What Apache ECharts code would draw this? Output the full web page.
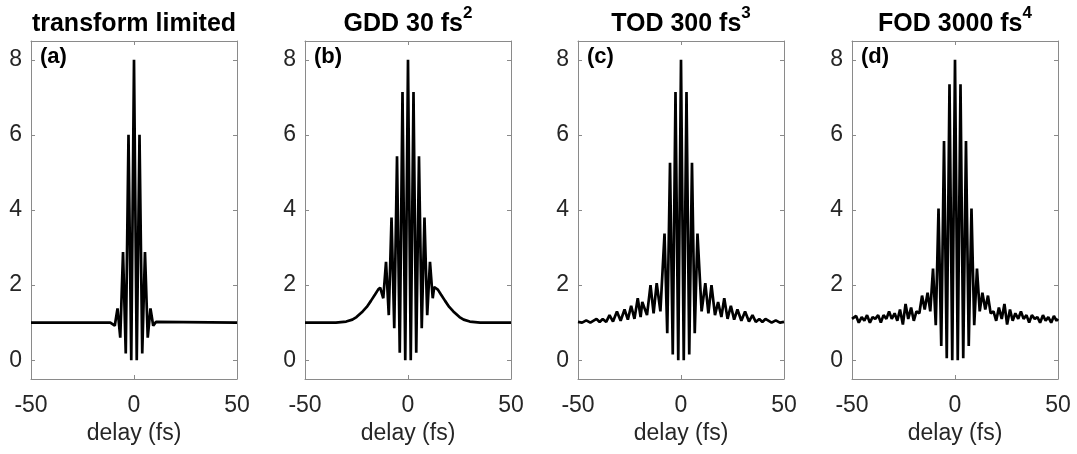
<!DOCTYPE html>
<html>
<head>
<meta charset="utf-8">
<script src="https://cdn.jsdelivr.net/npm/echarts@6/dist/echarts.min.js"></script>
<style>
  html, body { margin: 0; padding: 0; background: #fff; }
  #main { width: 1077px; height: 454px; }
</style>
</head>
<body>
<div id="main"></div>
<script>
// panel titles and labels
var titles = ['transform limited', 'GDD 30 fs', 'TOD 300 fs', 'FOD 3000 fs'];
var titleSup = ['', '2', '3', '4'];
var panelTags = ['(a)', '(b)', '(c)', '(d)'];
var xTicks = [-50, 0, 50];
var yTicks = [0, 2, 4, 6, 8];

// (a) transform limited
var delayA = [-50, -11.5, -10.7, -9.33, -8, -6.67, -5.33, -4, -2.67, -1.33, 0, 1.33, 2.67, 4, 5.33, 6.67, 8, 9.33, 10.7, 11.5, 50];
var signalA = [1, 1, 1.02, 0.92, 1.38, 0.6, 2.88, 0.18, 6.0, 0, 8, 0, 6.0, 0.18, 2.88, 0.6, 1.38, 0.92, 1.02, 1, 1];

// (b) GDD
var delayB = [-50, -35, -30, -27, -25, -22, -20, -18, -16, -14.5, -13.5, -12.7, -12, -10.67, -9.33, -8, -6.67, -5.33, -4, -2.67, -1.33, 0,
  1.33, 2.67, 4, 5.33, 6.67, 8, 9.33, 10.67, 12, 12.7, 13.5, 14.5, 16, 18, 20, 22, 25, 27, 30, 35, 50];
var signalB = [1, 1, 1.03, 1.08, 1.15, 1.3, 1.42, 1.58, 1.75, 1.88, 1.93, 1.95, 1.65, 2.62, 1.2, 3.8, 0.85, 5.43, 0.2, 7.14, 0, 8,
  0, 7.14, 0.2, 5.43, 0.85, 3.8, 1.2, 2.62, 1.65, 1.95, 1.93, 1.88, 1.75, 1.58, 1.42, 1.3, 1.15, 1.08, 1.03, 1, 1];

// (c) TOD
var delayC = [-50, -48, -46, -44, -41, -39.5, -38, -36.3, -34.7, -33, -31.1, -29.3, -27.4, -25.8, -24.2, -22.6, -21, -19.6, -18.8, -18,
  -16.5, -14.8, -13.3, -11.8, -10, -8, -6.67, -5.33, -4, -2.67, -1.33, 0,
  1.33, 2.67, 4, 5.33, 6.67, 8, 10, 11.8, 13.3, 14.8, 16.5, 18, 18.8, 19.6, 21, 22.6, 24.2, 25.8, 27.4, 29.3, 31.1, 33, 34.7, 36.3,
  38, 39.5, 41, 44, 46, 48, 50];
var signalC = [1.02, 1.0, 1.06, 1.0, 1.1, 1.02, 1.1, 1.02, 1.2, 1.03, 1.3, 1.05, 1.35, 1.08, 1.45, 1.1, 1.65, 1.15, 1.55, 1.55,
  1.2, 2.0, 1.25, 2.05, 1.3, 3.37, 0.72, 5.26, 0.15, 7.14, 0, 8,
  0, 7.14, 0.15, 5.26, 0.72, 3.37, 1.3, 2.05, 1.25, 2.0, 1.2, 1.55, 1.55, 1.15, 1.65, 1.1, 1.45, 1.08, 1.35, 1.05, 1.3, 1.03, 1.2, 1.02,
  1.1, 1.02, 1.1, 1.0, 1.06, 1.0, 1.02];

// (d) FOD
var delayD = [-50, -49.3, -48, -46.7, -45.3, -44, -42.7, -41.3, -40, -38.7, -37.3, -36, -34.7, -33.3, -32, -30.7, -29.3, -28, -26.7, -25.3,
  -24, -22.7, -21.3, -20, -18.7, -17.3, -16, -14.7, -13.3, -12, -10.67, -9.33, -8, -6.67, -5.33, -4, -2.67, -1.33, 0,
  1.33, 2.67, 4, 5.33, 6.67, 8, 9.33, 10.67, 12, 13.3, 14.7, 16, 17.3, 18.7, 20, 21.3, 22.7, 24,
  25.3, 26.7, 28, 29.3, 30.7, 32, 33.3, 34.7, 36, 37.3, 38.7, 40, 41.3, 42.7, 44, 45.3, 46.7, 48, 49.3, 50];
var signalD = [1.1, 1.05, 1.18, 1.0, 1.15, 1.05, 1.2, 1.0, 1.15, 1.1, 1.2, 1.0, 1.2, 1.1, 1.3, 1.1, 1.25, 1.05, 1.35, 0.95,
  1.5, 1.1, 1.4, 1.05, 1.3, 1.25, 1.72, 1.35, 1.8, 1.3, 2.44, 0.93, 4.04, 0.38, 5.84, 0.05, 7.35, 0, 8,
  0, 7.35, 0.05, 5.84, 0.38, 4.04, 0.93, 2.44, 1.3, 1.8, 1.35, 1.72, 1.25, 1.3, 1.05, 1.4, 1.1, 1.5,
  0.95, 1.35, 1.05, 1.25, 1.1, 1.3, 1.1, 1.2, 1.0, 1.2, 1.1, 1.15, 1.0, 1.2, 1.05, 1.15, 1.0, 1.18, 1.05, 1.1];

var delays = [delayA, delayB, delayC, delayD];
var signals = [signalA, signalB, signalC, signalD];

// layout (px)
var gridLeft = [31, 305, 578, 852];
var gridWidth = 206;
var gridTop = 41;
var gridHeight = 338;

var font = 'Liberation Sans, Arial, Helvetica, sans-serif';
var frameColor = '#8a8a8a';
var textColor = '#262626';

function pairs(xs, ys) {
  var out = [];
  for (var i = 0; i < xs.length; i++) out.push([xs[i], ys[i]]);
  return out;
}

function getOption() {
  var grid = [], xAxis = [], yAxis = [], series = [], title = [];
  for (var i = 0; i < 4; i++) {
    grid.push({ left: gridLeft[i], top: gridTop, width: gridWidth, height: gridHeight });

    var lineStyle = { show: true, onZero: false, lineStyle: { color: frameColor, width: 1 } };
    var xTickStyle = { show: true, inside: true, length: 4, lineStyle: { color: frameColor }, customValues: xTicks };
    var yTickStyle = { show: true, inside: true, length: 4, lineStyle: { color: frameColor }, customValues: yTicks };

    // bottom + top x axes
    xAxis.push({
      type: 'value', gridIndex: i, min: -50, max: 50, interval: 50, position: 'bottom',
      axisLine: lineStyle, axisTick: xTickStyle, splitLine: { show: false },
      axisLabel: { fontSize: 23, color: textColor, fontFamily: font, margin: 15, customValues: xTicks },
      name: 'delay (fs)', nameLocation: 'middle', nameGap: 43,
      nameTextStyle: { fontSize: 23, color: textColor, fontFamily: font }
    });
    xAxis.push({
      type: 'value', gridIndex: i, min: -50, max: 50, interval: 50, position: 'top',
      axisLine: lineStyle, axisTick: xTickStyle, splitLine: { show: false },
      axisLabel: { show: false }
    });

    // left + right y axes
    yAxis.push({
      type: 'value', gridIndex: i, min: -0.5, max: 8.5, position: 'left',
      axisLine: lineStyle, axisTick: yTickStyle, splitLine: { show: false },
      axisLabel: { fontSize: 23, color: textColor, fontFamily: font, margin: 9, customValues: yTicks }
    });
    yAxis.push({
      type: 'value', gridIndex: i, min: -0.5, max: 8.5, position: 'right',
      axisLine: lineStyle, axisTick: yTickStyle, splitLine: { show: false },
      axisLabel: { show: false, customValues: yTicks }
    });

    series.push({
      type: 'line', xAxisIndex: i * 2, yAxisIndex: i * 2,
      data: pairs(delays[i], signals[i]),
      showSymbol: false, smooth: false, clip: true,
      lineStyle: { color: '#000', width: 2.7 }
    });

    // title with superscript
    var txt = titleSup[i] ? '{m|' + titles[i] + '}{s|' + titleSup[i] + '}' : '{m|' + titles[i] + '}';
    title.push({
      text: txt, left: gridLeft[i] + gridWidth / 2, top: 5, textAlign: 'center', padding: 0,
      textStyle: {
        rich: {
          m: { fontSize: 25, fontWeight: 'bold', color: '#000', fontFamily: font, lineHeight: 38 },
          s: { fontSize: 17, fontWeight: 'bold', color: '#000', fontFamily: font, verticalAlign: 'top', lineHeight: 18 }
        }
      }
    });
    // panel tag
    title.push({
      text: panelTags[i], left: gridLeft[i] + 9, top: 46, padding: 0,
      textStyle: { fontSize: 22, fontWeight: 'bold', color: '#000', fontFamily: font }
    });
  }
  return { animation: false, backgroundColor: '#fff', title: title, grid: grid, xAxis: xAxis, yAxis: yAxis, series: series };
}

var chart = echarts.init(document.getElementById('main'), null, { renderer: 'canvas' });
chart.setOption(getOption());
</script>
</body>
</html>
